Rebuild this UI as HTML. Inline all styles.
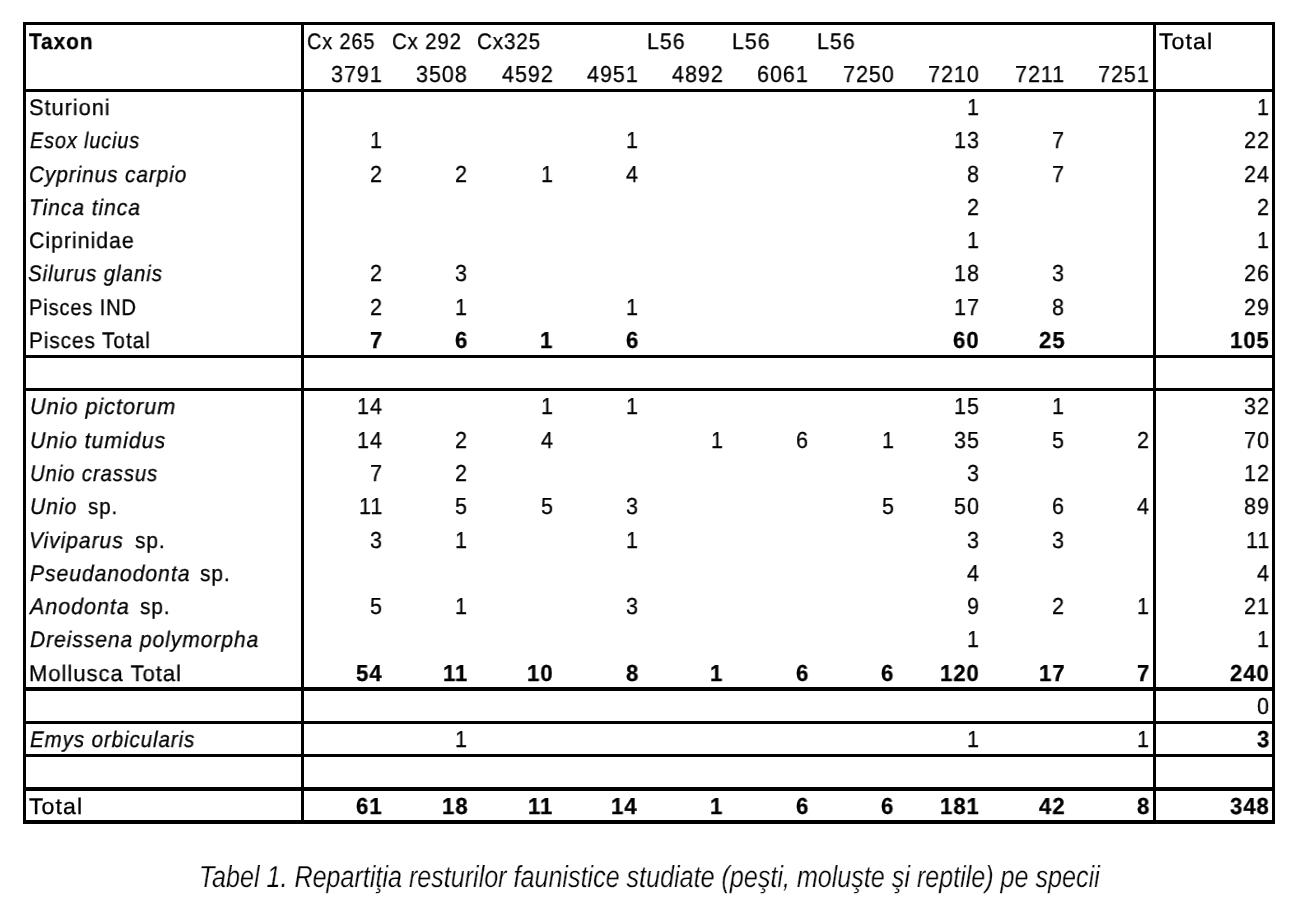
<!DOCTYPE html>
<html><head><meta charset="utf-8"><style>
html,body{margin:0;padding:0;background:#fff;}
body{width:1302px;height:902px;position:relative;overflow:hidden;font-family:"Liberation Sans",sans-serif;color:#000;}
.l{position:absolute;background:#000;}
.t{position:absolute;will-change:transform;font-size:22.5px;line-height:30px;white-space:pre;transform-origin:0 50%;text-rendering:geometricPrecision;-webkit-text-stroke:0.3px #000;}
.cap{position:absolute;will-change:transform;left:199.4px;top:857px;-webkit-text-stroke:0.25px #fff;font-size:30.5px;line-height:40px;font-style:italic;white-space:pre;text-rendering:geometricPrecision;transform:scaleX(0.8233);transform-origin:0 50%;}
</style></head><body>
<div class="l" style="left:23px;top:22px;width:1252px;height:3px"></div>
<div class="l" style="left:23px;top:89px;width:1252px;height:3px"></div>
<div class="l" style="left:23px;top:355px;width:1252px;height:3px"></div>
<div class="l" style="left:23px;top:388px;width:1252px;height:3px"></div>
<div class="l" style="left:23px;top:687px;width:1252px;height:4px"></div>
<div class="l" style="left:23px;top:721px;width:1252px;height:3px"></div>
<div class="l" style="left:23px;top:754px;width:1252px;height:3px"></div>
<div class="l" style="left:23px;top:787px;width:1252px;height:4px"></div>
<div class="l" style="left:23px;top:820px;width:1252px;height:4px"></div>
<div class="l" style="left:23px;top:22px;width:3px;height:802px"></div>
<div class="l" style="left:301px;top:22px;width:3px;height:802px"></div>
<div class="l" style="left:1153px;top:22px;width:3px;height:802px"></div>
<div class="l" style="left:1272px;top:22px;width:3px;height:802px"></div>
<div class="t" style="left:29.00px;top:27px;font-weight:bold;letter-spacing:1.0px;transform:scaleX(0.9284)">Taxon</div>
<div class="t" style="left:28.83px;top:93px;letter-spacing:1.0px;transform:scaleX(0.9691)">Sturioni</div>
<div class="t" style="left:29.90px;top:126px;font-style:italic;letter-spacing:1.0px;transform:scaleX(0.8821)">Esox lucius</div>
<div class="t" style="left:28.98px;top:160px;font-style:italic;letter-spacing:1.0px;transform:scaleX(0.9237)">Cyprinus carpio</div>
<div class="t" style="left:28.93px;top:193px;font-style:italic;letter-spacing:1.0px;transform:scaleX(0.9362)">Tinca tinca</div>
<div class="t" style="left:28.95px;top:226px;letter-spacing:1.0px;transform:scaleX(0.9500)">Ciprinidae</div>
<div class="t" style="left:28.39px;top:259px;font-style:italic;letter-spacing:1.0px;transform:scaleX(0.9131)">Silurus glanis</div>
<div class="t" style="left:28.62px;top:293px;letter-spacing:1.0px;transform:scaleX(0.8889)">Pisces IND</div>
<div class="t" style="left:28.55px;top:326px;letter-spacing:1.0px;transform:scaleX(0.9242)">Pisces Total</div>
<div class="t" style="left:29.84px;top:392px;font-style:italic;letter-spacing:1.0px;transform:scaleX(0.9638)">Unio pictorum</div>
<div class="t" style="left:29.85px;top:426px;font-style:italic;letter-spacing:1.0px;transform:scaleX(0.9504)">Unio tumidus</div>
<div class="t" style="left:29.90px;top:459px;font-style:italic;letter-spacing:1.0px;transform:scaleX(0.9021)">Unio crassus</div>
<div class="t" style="left:29.86px;top:492px;font-style:italic;letter-spacing:1.0px;transform:scaleX(0.9396)">Unio</div>
<div class="t" style="left:87.79px;top:492px;letter-spacing:1.0px;transform:scaleX(0.9138)">sp.</div>
<div class="t" style="left:28.93px;top:526px;font-style:italic;letter-spacing:1.0px;transform:scaleX(0.9357)">Viviparus</div>
<div class="t" style="left:135.07px;top:526px;letter-spacing:1.0px;transform:scaleX(0.9276)">sp.</div>
<div class="t" style="left:30.40px;top:559px;font-style:italic;letter-spacing:1.0px;transform:scaleX(0.9396)">Pseudanodonta</div>
<div class="t" style="left:199.77px;top:559px;letter-spacing:1.0px;transform:scaleX(0.9276)">sp.</div>
<div class="t" style="left:30.16px;top:592px;font-style:italic;letter-spacing:1.0px;transform:scaleX(0.9567)">Anodonta</div>
<div class="t" style="left:140.28px;top:592px;letter-spacing:1.0px;transform:scaleX(0.9241)">sp.</div>
<div class="t" style="left:30.40px;top:625px;font-style:italic;letter-spacing:1.0px;transform:scaleX(0.9354)">Dreissena polymorpha</div>
<div class="t" style="left:28.84px;top:659px;letter-spacing:1.0px;transform:scaleX(0.9789)">Mollusca Total</div>
<div class="t" style="left:30.40px;top:725px;font-style:italic;letter-spacing:1.0px;transform:scaleX(0.9128)">Emys orbicularis</div>
<div class="t" style="left:28.80px;top:792px;letter-spacing:1.0px;transform:scaleX(1.0300)">Total</div>
<div class="t" style="left:307.12px;top:27px;letter-spacing:1.0px;transform:scaleX(0.8840)">Cx 265</div>
<div class="t" style="left:392.00px;top:27px;letter-spacing:1.0px;transform:scaleX(0.9041)">Cx 292</div>
<div class="t" style="left:476.79px;top:27px;letter-spacing:1.0px;transform:scaleX(0.9149)">Cx325</div>
<div class="t" style="left:646.90px;top:27px;letter-spacing:1.0px;transform:scaleX(0.9514)">L56</div>
<div class="t" style="left:731.80px;top:27px;letter-spacing:1.0px;transform:scaleX(0.9514)">L56</div>
<div class="t" style="left:816.59px;top:27px;letter-spacing:1.0px;transform:scaleX(0.9541)">L56</div>
<div class="t" style="left:1159.00px;top:27px;letter-spacing:1.0px;transform:scaleX(1.0300)">Total</div>
<div class="t" style="left:331.17px;top:59px;font-size:23.2px;letter-spacing:1.0px;transform:scaleX(0.9302)">3791</div>
<div class="t" style="left:416.42px;top:59px;font-size:23.2px;letter-spacing:1.0px;transform:scaleX(0.9302)">3508</div>
<div class="t" style="left:501.67px;top:59px;font-size:23.2px;letter-spacing:1.0px;transform:scaleX(0.9302)">4592</div>
<div class="t" style="left:586.92px;top:59px;font-size:23.2px;letter-spacing:1.0px;transform:scaleX(0.9302)">4951</div>
<div class="t" style="left:672.17px;top:59px;font-size:23.2px;letter-spacing:1.0px;transform:scaleX(0.9302)">4892</div>
<div class="t" style="left:757.42px;top:59px;font-size:23.2px;letter-spacing:1.0px;transform:scaleX(0.9302)">6061</div>
<div class="t" style="left:842.67px;top:59px;font-size:23.2px;letter-spacing:1.0px;transform:scaleX(0.9302)">7250</div>
<div class="t" style="left:927.92px;top:59px;font-size:23.2px;letter-spacing:1.0px;transform:scaleX(0.9302)">7210</div>
<div class="t" style="left:1015.03px;top:59px;font-size:23.2px;letter-spacing:1.0px;transform:scaleX(0.9302)">7211</div>
<div class="t" style="left:1098.42px;top:59px;font-size:23.2px;letter-spacing:1.0px;transform:scaleX(0.9302)">7251</div>
<div class="t" style="left:966.99px;top:92px;font-size:23.2px;letter-spacing:1.0px;transform:scaleX(0.9302)">1</div>
<div class="t" style="left:1256.94px;top:92px;font-size:23.2px;letter-spacing:1.0px;transform:scaleX(0.9302)">1</div>
<div class="t" style="left:370.24px;top:125px;font-size:23.2px;letter-spacing:1.0px;transform:scaleX(0.9302)">1</div>
<div class="t" style="left:625.99px;top:125px;font-size:23.2px;letter-spacing:1.0px;transform:scaleX(0.9302)">1</div>
<div class="t" style="left:953.97px;top:125px;font-size:23.2px;letter-spacing:1.0px;transform:scaleX(0.9302)">13</div>
<div class="t" style="left:1052.24px;top:125px;font-size:23.2px;letter-spacing:1.0px;transform:scaleX(0.9302)">7</div>
<div class="t" style="left:1243.92px;top:125px;font-size:23.2px;letter-spacing:1.0px;transform:scaleX(0.9302)">22</div>
<div class="t" style="left:370.24px;top:159px;font-size:23.2px;letter-spacing:1.0px;transform:scaleX(0.9302)">2</div>
<div class="t" style="left:455.49px;top:159px;font-size:23.2px;letter-spacing:1.0px;transform:scaleX(0.9302)">2</div>
<div class="t" style="left:540.74px;top:159px;font-size:23.2px;letter-spacing:1.0px;transform:scaleX(0.9302)">1</div>
<div class="t" style="left:625.99px;top:159px;font-size:23.2px;letter-spacing:1.0px;transform:scaleX(0.9302)">4</div>
<div class="t" style="left:966.99px;top:159px;font-size:23.2px;letter-spacing:1.0px;transform:scaleX(0.9302)">8</div>
<div class="t" style="left:1052.24px;top:159px;font-size:23.2px;letter-spacing:1.0px;transform:scaleX(0.9302)">7</div>
<div class="t" style="left:1243.92px;top:159px;font-size:23.2px;letter-spacing:1.0px;transform:scaleX(0.9302)">24</div>
<div class="t" style="left:966.99px;top:192px;font-size:23.2px;letter-spacing:1.0px;transform:scaleX(0.9302)">2</div>
<div class="t" style="left:1256.94px;top:192px;font-size:23.2px;letter-spacing:1.0px;transform:scaleX(0.9302)">2</div>
<div class="t" style="left:966.99px;top:225px;font-size:23.2px;letter-spacing:1.0px;transform:scaleX(0.9302)">1</div>
<div class="t" style="left:1256.94px;top:225px;font-size:23.2px;letter-spacing:1.0px;transform:scaleX(0.9302)">1</div>
<div class="t" style="left:370.24px;top:258px;font-size:23.2px;letter-spacing:1.0px;transform:scaleX(0.9302)">2</div>
<div class="t" style="left:455.49px;top:258px;font-size:23.2px;letter-spacing:1.0px;transform:scaleX(0.9302)">3</div>
<div class="t" style="left:953.97px;top:258px;font-size:23.2px;letter-spacing:1.0px;transform:scaleX(0.9302)">18</div>
<div class="t" style="left:1052.24px;top:258px;font-size:23.2px;letter-spacing:1.0px;transform:scaleX(0.9302)">3</div>
<div class="t" style="left:1243.92px;top:258px;font-size:23.2px;letter-spacing:1.0px;transform:scaleX(0.9302)">26</div>
<div class="t" style="left:370.24px;top:292px;font-size:23.2px;letter-spacing:1.0px;transform:scaleX(0.9302)">2</div>
<div class="t" style="left:455.49px;top:292px;font-size:23.2px;letter-spacing:1.0px;transform:scaleX(0.9302)">1</div>
<div class="t" style="left:625.99px;top:292px;font-size:23.2px;letter-spacing:1.0px;transform:scaleX(0.9302)">1</div>
<div class="t" style="left:953.97px;top:292px;font-size:23.2px;letter-spacing:1.0px;transform:scaleX(0.9302)">17</div>
<div class="t" style="left:1052.24px;top:292px;font-size:23.2px;letter-spacing:1.0px;transform:scaleX(0.9302)">8</div>
<div class="t" style="left:1243.92px;top:292px;font-size:23.2px;letter-spacing:1.0px;transform:scaleX(0.9302)">29</div>
<div class="t" style="left:369.96px;top:325px;font-weight:bold;font-size:23.2px;letter-spacing:1.0px;transform:scaleX(0.9534)">7</div>
<div class="t" style="left:455.21px;top:325px;font-weight:bold;font-size:23.2px;letter-spacing:1.0px;transform:scaleX(0.9534)">6</div>
<div class="t" style="left:539.51px;top:325px;font-weight:bold;font-size:23.2px;letter-spacing:1.0px;transform:scaleX(0.9534)">1</div>
<div class="t" style="left:625.71px;top:325px;font-weight:bold;font-size:23.2px;letter-spacing:1.0px;transform:scaleX(0.9534)">6</div>
<div class="t" style="left:953.36px;top:325px;font-weight:bold;font-size:23.2px;letter-spacing:1.0px;transform:scaleX(0.9534)">60</div>
<div class="t" style="left:1038.61px;top:325px;font-weight:bold;font-size:23.2px;letter-spacing:1.0px;transform:scaleX(0.9534)">25</div>
<div class="t" style="left:1229.96px;top:325px;font-weight:bold;font-size:23.2px;letter-spacing:1.0px;transform:scaleX(0.9534)">105</div>
<div class="t" style="left:357.22px;top:391px;font-size:23.2px;letter-spacing:1.0px;transform:scaleX(0.9302)">14</div>
<div class="t" style="left:540.74px;top:391px;font-size:23.2px;letter-spacing:1.0px;transform:scaleX(0.9302)">1</div>
<div class="t" style="left:625.99px;top:391px;font-size:23.2px;letter-spacing:1.0px;transform:scaleX(0.9302)">1</div>
<div class="t" style="left:953.97px;top:391px;font-size:23.2px;letter-spacing:1.0px;transform:scaleX(0.9302)">15</div>
<div class="t" style="left:1052.24px;top:391px;font-size:23.2px;letter-spacing:1.0px;transform:scaleX(0.9302)">1</div>
<div class="t" style="left:1243.92px;top:391px;font-size:23.2px;letter-spacing:1.0px;transform:scaleX(0.9302)">32</div>
<div class="t" style="left:357.22px;top:425px;font-size:23.2px;letter-spacing:1.0px;transform:scaleX(0.9302)">14</div>
<div class="t" style="left:455.49px;top:425px;font-size:23.2px;letter-spacing:1.0px;transform:scaleX(0.9302)">2</div>
<div class="t" style="left:540.74px;top:425px;font-size:23.2px;letter-spacing:1.0px;transform:scaleX(0.9302)">4</div>
<div class="t" style="left:711.24px;top:425px;font-size:23.2px;letter-spacing:1.0px;transform:scaleX(0.9302)">1</div>
<div class="t" style="left:796.49px;top:425px;font-size:23.2px;letter-spacing:1.0px;transform:scaleX(0.9302)">6</div>
<div class="t" style="left:881.74px;top:425px;font-size:23.2px;letter-spacing:1.0px;transform:scaleX(0.9302)">1</div>
<div class="t" style="left:953.97px;top:425px;font-size:23.2px;letter-spacing:1.0px;transform:scaleX(0.9302)">35</div>
<div class="t" style="left:1052.24px;top:425px;font-size:23.2px;letter-spacing:1.0px;transform:scaleX(0.9302)">5</div>
<div class="t" style="left:1137.49px;top:425px;font-size:23.2px;letter-spacing:1.0px;transform:scaleX(0.9302)">2</div>
<div class="t" style="left:1243.92px;top:425px;font-size:23.2px;letter-spacing:1.0px;transform:scaleX(0.9302)">70</div>
<div class="t" style="left:370.24px;top:458px;font-size:23.2px;letter-spacing:1.0px;transform:scaleX(0.9302)">7</div>
<div class="t" style="left:455.49px;top:458px;font-size:23.2px;letter-spacing:1.0px;transform:scaleX(0.9302)">2</div>
<div class="t" style="left:966.99px;top:458px;font-size:23.2px;letter-spacing:1.0px;transform:scaleX(0.9302)">3</div>
<div class="t" style="left:1243.92px;top:458px;font-size:23.2px;letter-spacing:1.0px;transform:scaleX(0.9302)">12</div>
<div class="t" style="left:359.08px;top:491px;font-size:23.2px;letter-spacing:1.0px;transform:scaleX(0.9302)">11</div>
<div class="t" style="left:455.49px;top:491px;font-size:23.2px;letter-spacing:1.0px;transform:scaleX(0.9302)">5</div>
<div class="t" style="left:540.74px;top:491px;font-size:23.2px;letter-spacing:1.0px;transform:scaleX(0.9302)">5</div>
<div class="t" style="left:625.99px;top:491px;font-size:23.2px;letter-spacing:1.0px;transform:scaleX(0.9302)">3</div>
<div class="t" style="left:881.74px;top:491px;font-size:23.2px;letter-spacing:1.0px;transform:scaleX(0.9302)">5</div>
<div class="t" style="left:953.97px;top:491px;font-size:23.2px;letter-spacing:1.0px;transform:scaleX(0.9302)">50</div>
<div class="t" style="left:1052.24px;top:491px;font-size:23.2px;letter-spacing:1.0px;transform:scaleX(0.9302)">6</div>
<div class="t" style="left:1137.49px;top:491px;font-size:23.2px;letter-spacing:1.0px;transform:scaleX(0.9302)">4</div>
<div class="t" style="left:1243.92px;top:491px;font-size:23.2px;letter-spacing:1.0px;transform:scaleX(0.9302)">89</div>
<div class="t" style="left:370.24px;top:525px;font-size:23.2px;letter-spacing:1.0px;transform:scaleX(0.9302)">3</div>
<div class="t" style="left:455.49px;top:525px;font-size:23.2px;letter-spacing:1.0px;transform:scaleX(0.9302)">1</div>
<div class="t" style="left:625.99px;top:525px;font-size:23.2px;letter-spacing:1.0px;transform:scaleX(0.9302)">1</div>
<div class="t" style="left:966.99px;top:525px;font-size:23.2px;letter-spacing:1.0px;transform:scaleX(0.9302)">3</div>
<div class="t" style="left:1052.24px;top:525px;font-size:23.2px;letter-spacing:1.0px;transform:scaleX(0.9302)">3</div>
<div class="t" style="left:1245.78px;top:525px;font-size:23.2px;letter-spacing:1.0px;transform:scaleX(0.9302)">11</div>
<div class="t" style="left:966.99px;top:558px;font-size:23.2px;letter-spacing:1.0px;transform:scaleX(0.9302)">4</div>
<div class="t" style="left:1256.94px;top:558px;font-size:23.2px;letter-spacing:1.0px;transform:scaleX(0.9302)">4</div>
<div class="t" style="left:370.24px;top:591px;font-size:23.2px;letter-spacing:1.0px;transform:scaleX(0.9302)">5</div>
<div class="t" style="left:455.49px;top:591px;font-size:23.2px;letter-spacing:1.0px;transform:scaleX(0.9302)">1</div>
<div class="t" style="left:625.99px;top:591px;font-size:23.2px;letter-spacing:1.0px;transform:scaleX(0.9302)">3</div>
<div class="t" style="left:966.99px;top:591px;font-size:23.2px;letter-spacing:1.0px;transform:scaleX(0.9302)">9</div>
<div class="t" style="left:1052.24px;top:591px;font-size:23.2px;letter-spacing:1.0px;transform:scaleX(0.9302)">2</div>
<div class="t" style="left:1137.49px;top:591px;font-size:23.2px;letter-spacing:1.0px;transform:scaleX(0.9302)">1</div>
<div class="t" style="left:1243.92px;top:591px;font-size:23.2px;letter-spacing:1.0px;transform:scaleX(0.9302)">21</div>
<div class="t" style="left:966.99px;top:624px;font-size:23.2px;letter-spacing:1.0px;transform:scaleX(0.9302)">1</div>
<div class="t" style="left:1256.94px;top:624px;font-size:23.2px;letter-spacing:1.0px;transform:scaleX(0.9302)">1</div>
<div class="t" style="left:355.66px;top:658px;font-weight:bold;font-size:23.2px;letter-spacing:1.0px;transform:scaleX(0.9534)">54</div>
<div class="t" style="left:442.81px;top:658px;font-weight:bold;font-size:23.2px;letter-spacing:1.0px;transform:scaleX(0.9534)">11</div>
<div class="t" style="left:527.11px;top:658px;font-weight:bold;font-size:23.2px;letter-spacing:1.0px;transform:scaleX(0.9534)">10</div>
<div class="t" style="left:625.71px;top:658px;font-weight:bold;font-size:23.2px;letter-spacing:1.0px;transform:scaleX(0.9534)">8</div>
<div class="t" style="left:710.01px;top:658px;font-weight:bold;font-size:23.2px;letter-spacing:1.0px;transform:scaleX(0.9534)">1</div>
<div class="t" style="left:796.21px;top:658px;font-weight:bold;font-size:23.2px;letter-spacing:1.0px;transform:scaleX(0.9534)">6</div>
<div class="t" style="left:881.46px;top:658px;font-weight:bold;font-size:23.2px;letter-spacing:1.0px;transform:scaleX(0.9534)">6</div>
<div class="t" style="left:940.01px;top:658px;font-weight:bold;font-size:23.2px;letter-spacing:1.0px;transform:scaleX(0.9534)">120</div>
<div class="t" style="left:1038.61px;top:658px;font-weight:bold;font-size:23.2px;letter-spacing:1.0px;transform:scaleX(0.9534)">17</div>
<div class="t" style="left:1137.21px;top:658px;font-weight:bold;font-size:23.2px;letter-spacing:1.0px;transform:scaleX(0.9534)">7</div>
<div class="t" style="left:1229.96px;top:658px;font-weight:bold;font-size:23.2px;letter-spacing:1.0px;transform:scaleX(0.9534)">240</div>
<div class="t" style="left:1256.94px;top:691px;font-size:23.2px;letter-spacing:1.0px;transform:scaleX(0.9302)">0</div>
<div class="t" style="left:455.49px;top:724px;font-size:23.2px;letter-spacing:1.0px;transform:scaleX(0.9302)">1</div>
<div class="t" style="left:966.99px;top:724px;font-size:23.2px;letter-spacing:1.0px;transform:scaleX(0.9302)">1</div>
<div class="t" style="left:1137.49px;top:724px;font-size:23.2px;letter-spacing:1.0px;transform:scaleX(0.9302)">1</div>
<div class="t" style="left:1256.66px;top:724px;font-weight:bold;font-size:23.2px;letter-spacing:1.0px;transform:scaleX(0.9534)">3</div>
<div class="t" style="left:355.66px;top:791px;font-weight:bold;font-size:23.2px;letter-spacing:1.0px;transform:scaleX(0.9534)">61</div>
<div class="t" style="left:441.86px;top:791px;font-weight:bold;font-size:23.2px;letter-spacing:1.0px;transform:scaleX(0.9534)">18</div>
<div class="t" style="left:528.06px;top:791px;font-weight:bold;font-size:23.2px;letter-spacing:1.0px;transform:scaleX(0.9534)">11</div>
<div class="t" style="left:611.41px;top:791px;font-weight:bold;font-size:23.2px;letter-spacing:1.0px;transform:scaleX(0.9534)">14</div>
<div class="t" style="left:710.01px;top:791px;font-weight:bold;font-size:23.2px;letter-spacing:1.0px;transform:scaleX(0.9534)">1</div>
<div class="t" style="left:796.21px;top:791px;font-weight:bold;font-size:23.2px;letter-spacing:1.0px;transform:scaleX(0.9534)">6</div>
<div class="t" style="left:881.46px;top:791px;font-weight:bold;font-size:23.2px;letter-spacing:1.0px;transform:scaleX(0.9534)">6</div>
<div class="t" style="left:940.01px;top:791px;font-weight:bold;font-size:23.2px;letter-spacing:1.0px;transform:scaleX(0.9534)">181</div>
<div class="t" style="left:1038.61px;top:791px;font-weight:bold;font-size:23.2px;letter-spacing:1.0px;transform:scaleX(0.9534)">42</div>
<div class="t" style="left:1137.21px;top:791px;font-weight:bold;font-size:23.2px;letter-spacing:1.0px;transform:scaleX(0.9534)">8</div>
<div class="t" style="left:1229.96px;top:791px;font-weight:bold;font-size:23.2px;letter-spacing:1.0px;transform:scaleX(0.9534)">348</div>
<div class="cap">Tabel 1. Repartiţia resturilor faunistice studiate (peşti, moluşte şi reptile) pe specii</div>
</body></html>
